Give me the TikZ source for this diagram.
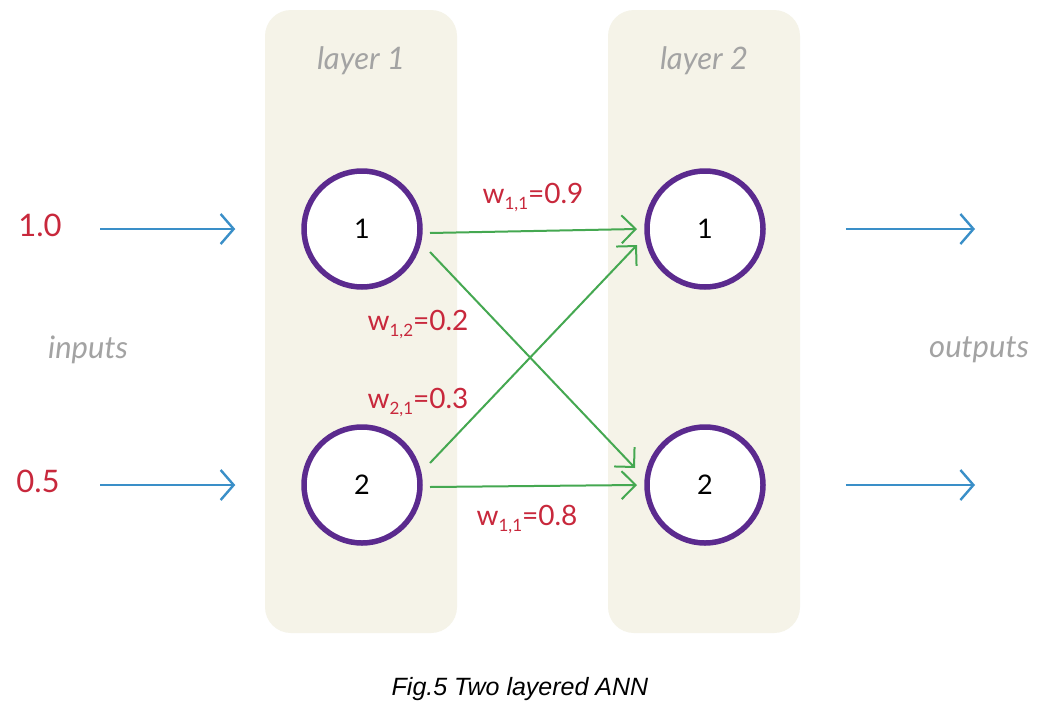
\documentclass[tikz,border=0pt]{standalone}
\usepackage{fontspec}
\setmainfont{Liberation Sans}
\newfontfamily\hand{Lato}
\usetikzlibrary{arrows.meta,calc}
\definecolor{layerbg}{HTML}{F5F3E8}
\definecolor{npurple}{HTML}{5B2A8E}
\definecolor{wred}{HTML}{C8283C}
\definecolor{ablue}{HTML}{3A8FC8}
\definecolor{wgreen}{HTML}{45A851}
\definecolor{lgray}{HTML}{A3A3A3}
\newcommand\wsub[1]{\raisebox{-6pt}{\fontsize{17}{17}\selectfont #1}}
\tikzset{
  layerbox/.style={fill=layerbg, draw=none, rounded corners=26pt},
  neuron/.style={circle, draw=npurple, line width=5.5pt, fill=white, minimum size=116pt, inner sep=0pt, font=\hand\fontsize{27}{27}\selectfont},
  graytext/.style={text=lgray, font=\hand\itshape\fontsize{31}{31}\selectfont, inner sep=0pt},
  valtext/.style={text=wred, font=\hand\fontsize{31}{31}\selectfont, inner sep=0pt},
  wtext/.style={text=wred, font=\hand\fontsize{28}{28}\selectfont, inner sep=0pt},
  inarrow/.style={draw=ablue, line width=2.4pt, -{Straight Barb[length=13pt,width=30pt,line width=2.4pt]}},
  warrow/.style={draw=wgreen, line width=2pt, -{Straight Barb[length=14pt,width=28pt,line width=2pt]}},
}
\begin{document}
\begin{tikzpicture}[x=1pt,y=-1pt]
\path[use as bounding box, fill=white] (0,0) rectangle (1042,718);
% layers
\path[layerbox] (265,10) rectangle (457,633);
\path[layerbox] (608,10) rectangle (800,633);
\node[graytext] (lab1) at (361,61) {layer 1};
\node[graytext] (lab2) at (704,61) {layer 2};
% neurons
\node[neuron] (A1) at (362,229) {1};
\node[neuron] (A2) at (362,485) {2};
\node[neuron] (B1) at (705,229) {1};
\node[neuron] (B2) at (705,485) {2};
% inputs
\node[valtext] (x1) at (40,225) {1.0};
\node[valtext] (x2) at (38,481) {0.5};
\node[graytext] (inp) at (88,350) {inputs};
\node[graytext] (outp) at (979,350) {outputs};
\coordinate (i1s) at (100,229);
\coordinate (i2s) at (100,485);
\draw[inarrow] (i1s) -- ($(A1.west)+(-66,0)$);
\draw[inarrow] (i2s) -- ($(A2.west)+(-66,0)$);
\coordinate (o1e) at (975,229);
\coordinate (o2e) at (975,485);
\draw[inarrow] ($(B1.east)+(80,0)$) -- (o1e);
\draw[inarrow] ($(B2.east)+(80,0)$) -- (o2e);
% weights
\draw[warrow] ($(A1)+(68,4)$) -- ($(B1)+(-68,0)$);
\draw[warrow] ($(A1)+(68,23)$) -- ($(B2)+(-70,-17)$);
\draw[warrow] ($(A2)+(68,-22)$) -- ($(B1)+(-68,16)$);
\draw[warrow] ($(A2)+(68,2)$) -- ($(B2)+(-68,0)$);
\node[wtext] (w11) at (533,198) {w\wsub{1,1}=0.9};
\node[wtext] (w12) at (418,325) {w\wsub{1,2}=0.2};
\node[wtext] (w21) at (418,403) {w\wsub{2,1}=0.3};
\node[wtext] (w22) at (527,520) {w\wsub{1,1}=0.8};
% caption
\node[font=\itshape\fontsize{25}{25}\selectfont, inner sep=0pt] (cap) at (520,689) {Fig.5 Two layered ANN};
\end{tikzpicture}
\end{document}
